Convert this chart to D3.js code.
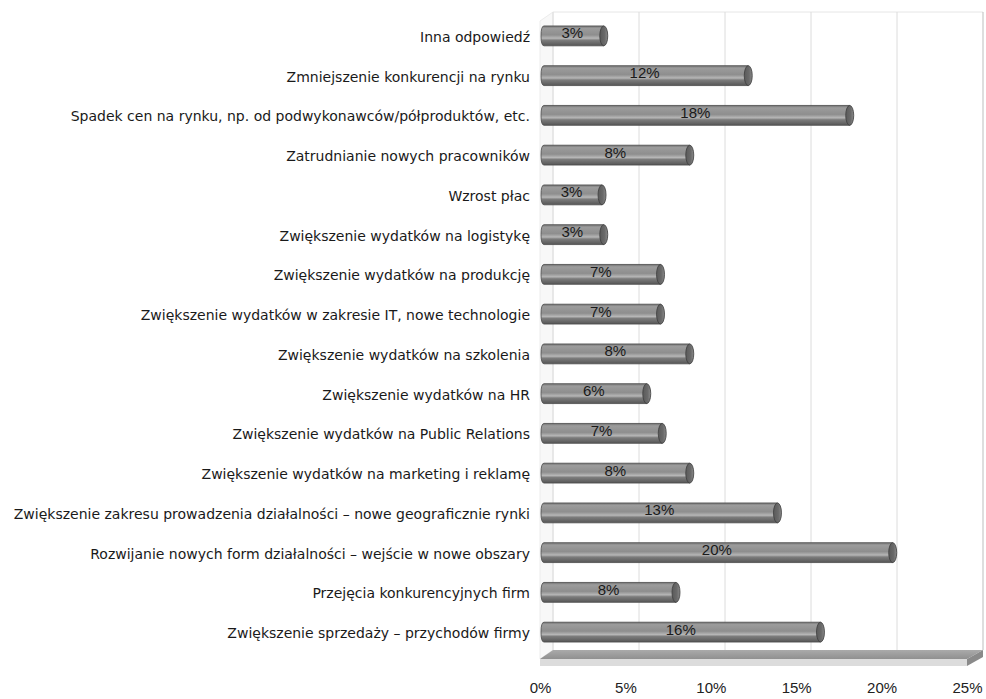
<!DOCTYPE html>
<html><head><meta charset="utf-8">
<script src="https://cdn.jsdelivr.net/npm/d3@7"></script>
<style>body{margin:0;background:#fff}svg{display:block}</style>
</head><body>
<script>
const categories = [
  "Inna odpowiedź",
  "Zmniejszenie konkurencji na rynku",
  "Spadek cen na rynku, np. od podwykonawców/półproduktów, etc.",
  "Zatrudnianie nowych pracowników",
  "Wzrost płac",
  "Zwiększenie wydatków na logistykę",
  "Zwiększenie wydatków na produkcję",
  "Zwiększenie wydatków w zakresie IT, nowe technologie",
  "Zwiększenie wydatków na szkolenia",
  "Zwiększenie wydatków na HR",
  "Zwiększenie wydatków na Public Relations",
  "Zwiększenie wydatków na marketing i reklamę",
  "Zwiększenie zakresu prowadzenia działalności – nowe geograficznie rynki",
  "Rozwijanie nowych form działalności – wejście w nowe obszary",
  "Przejęcia konkurencyjnych firm",
  "Zwiększenie sprzedaży – przychodów firmy"
];
const values = [3.3, 11.7, 17.6, 8.3, 3.2, 3.3, 6.6, 6.6, 8.3, 5.8, 6.7, 8.3, 13.4, 20.1, 7.5, 15.9];
const tickValues = [0, 5, 10, 15, 20, 25];

const W = 986, H = 699;
const svg = d3.select("body").append("svg").attr("width", W).attr("height", H);
const defs = svg.append("defs");

const frontX = d3.scaleLinear().domain([0, 25]).range([540, 967]);
const backX = d3.scaleLinear().domain([0, 25]).range([553, 983]);
const barX = d3.scaleLinear().domain([0, 25]).range([547, 977]);
const y = d3.scaleBand().domain(categories).range([16, 652]).paddingInner(0.5).paddingOuter(0.25);
const bw = y.bandwidth();

// gradients
const g1 = defs.append("linearGradient").attr("id", "barGrad").attr("x1", 0).attr("y1", 0).attr("x2", 0).attr("y2", 1);
[[0, "#707070"], [0.12, "#9c9c9c"], [0.45, "#8e8e8e"], [0.62, "#b6b6b6"], [0.72, "#7c7c7c"], [1, "#565656"]]
  .forEach(([o, c]) => g1.append("stop").attr("offset", o).attr("stop-color", c));
const g2 = defs.append("linearGradient").attr("id", "capGrad").attr("x1", 0).attr("y1", 0).attr("x2", 1).attr("y2", 0);
[[0, "#5a5a5a"], [0.6, "#6a6a6a"], [1, "#8a8a8a"]]
  .forEach(([o, c]) => g2.append("stop").attr("offset", o).attr("stop-color", c));
const g3 = defs.append("linearGradient").attr("id", "floorGrad").attr("x1", 0).attr("y1", 0).attr("x2", 0).attr("y2", 1);
[[0, "#aaaaaa"], [1, "#909090"]]
  .forEach(([o, c]) => g3.append("stop").attr("offset", o).attr("stop-color", c));

// walls
const wallTop = 12, floorBack = 650, floorFront = 659, floorBottom = 666;
svg.append("line").attr("x1", backX(0)).attr("x2", backX(25)).attr("y1", wallTop).attr("y2", wallTop)
  .attr("stroke", "#e6e6e6").attr("stroke-width", 1);
svg.append("path")
  .attr("d", `M${frontX(0)},${wallTop + 9}L${backX(0)},${wallTop}L${backX(0)},${floorBack}L${frontX(0)},${floorFront}Z`)
  .attr("fill", "#f8f8f8").attr("stroke", "#ececec");

// gridlines on back wall
svg.append("g").selectAll("line").data(tickValues).join("line")
  .attr("x1", d => backX(d)).attr("x2", d => backX(d))
  .attr("y1", wallTop).attr("y2", floorBack)
  .attr("stroke", d => d === 25 ? "#bdbdbd" : "#dcdcdc").attr("stroke-width", 1);

// floor slab
svg.append("path")
  .attr("d", `M${frontX(0)},${floorFront}L${backX(0)},${floorBack}L${backX(25)},${floorBack}L${frontX(25)},${floorFront}Z`)
  .attr("fill", "url(#floorGrad)");
svg.append("path")
  .attr("d", `M${frontX(0)},${floorFront}L${frontX(25)},${floorFront}L${frontX(25)},${floorBottom}L${frontX(0)},${floorBottom}Z`)
  .attr("fill", "#dcdcdc");
svg.append("path")
  .attr("d", `M${frontX(25)},${floorFront}L${backX(25)},${floorBack}L${backX(25)},${floorBack + 7}L${frontX(25)},${floorBottom}Z`)
  .attr("fill", "#8a8a8a");

// bars
const bars = svg.append("g").selectAll("g").data(categories).join("g")
  .attr("transform", c => `translate(0,${y(c)})`);
const x0 = barX(0) - 6;
bars.append("path")
  .attr("d", (c, i) => {
    const xe = barX(values[i]);
    return `M${xe},0L${x0 + 3},0Q${x0},0 ${x0},${bw / 2}Q${x0},${bw} ${x0 + 3},${bw}L${xe},${bw}Z`;
  })
  .attr("fill", "url(#barGrad)").attr("stroke", "#4a4a4a").attr("stroke-width", 0.8);
bars.append("ellipse")
  .attr("cx", (c, i) => barX(values[i])).attr("cy", bw / 2)
  .attr("rx", 4).attr("ry", bw / 2)
  .attr("fill", "url(#capGrad)").attr("stroke", "#3e3e3e").attr("stroke-width", 0.8);
bars.append("text")
  .attr("x", (c, i) => (x0 + barX(values[i])) / 2).attr("y", bw / 2 - 3)
  .attr("text-anchor", "middle").attr("dominant-baseline", "central")
  .attr("font-family", "Liberation Sans, Arial, sans-serif").attr("font-size", 15)
  .attr("fill", "#1a1a1a")
  .text((c, i) => d3.format(".0f")(values[i]) + "%");

// category labels
svg.append("g").selectAll("text").data(categories).join("text")
  .attr("x", 530).attr("y", c => y(c) + bw / 2 + 1)
  .attr("text-anchor", "end").attr("dominant-baseline", "central")
  .attr("font-family", "DejaVu Sans, Verdana, sans-serif").attr("font-size", 14)
  .attr("fill", "#1a1a1a")
  .text(c => c);

// x-axis tick labels
const axis = d3.axisBottom(frontX).tickValues(tickValues).tickSize(0).tickPadding(0)
  .tickFormat(d => d + "%");
const ag = svg.append("g").attr("transform", "translate(0,682)").call(axis);
ag.select(".domain").remove();
ag.selectAll("text").attr("font-family", "Liberation Sans, Arial, sans-serif").attr("font-size", 15)
  .attr("fill", "#222");
</script>
</body></html>
